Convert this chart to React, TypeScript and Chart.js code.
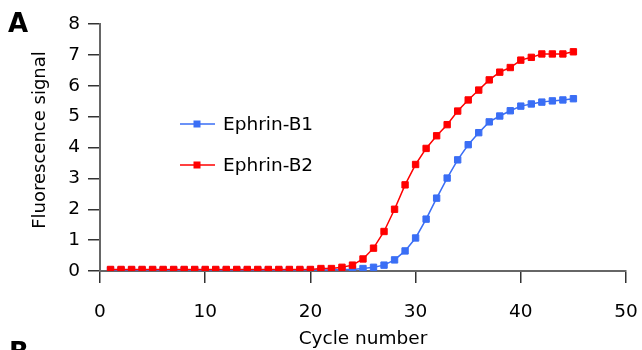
import React, { useEffect, useRef } from "react";
import { Chart, registerables } from "chart.js";

Chart.register(...registerables);

const cycles = [1, 2, 3, 4, 5, 6, 7, 8, 9, 10, 11, 12, 13, 14, 15, 16, 17, 18, 19, 20, 21, 22, 23, 24, 25, 26, 27, 28, 29, 30, 31, 32, 33, 34, 35, 36, 37, 38, 39, 40, 41, 42, 43, 44, 45];

const ephrinB1 = [0.03, 0.03, 0.03, 0.03, 0.03, 0.03, 0.03, 0.03, 0.03, 0.03, 0.03, 0.03, 0.03, 0.03, 0.03, 0.03, 0.03, 0.03, 0.03, 0.03, 0.03, 0.03, 0.05, 0.05, 0.08, 0.12, 0.19, 0.36, 0.65, 1.07, 1.68, 2.36, 3.01, 3.6, 4.09, 4.48, 4.83, 5.02, 5.19, 5.34, 5.41, 5.47, 5.51, 5.54, 5.58];

const ephrinB2 = [0.05, 0.05, 0.05, 0.05, 0.05, 0.05, 0.05, 0.05, 0.05, 0.05, 0.05, 0.05, 0.05, 0.05, 0.05, 0.05, 0.05, 0.05, 0.05, 0.05, 0.08, 0.08, 0.12, 0.19, 0.39, 0.74, 1.28, 2.0, 2.79, 3.45, 3.97, 4.38, 4.74, 5.18, 5.54, 5.86, 6.19, 6.44, 6.59, 6.83, 6.92, 7.03, 7.03, 7.03, 7.1];

const seriesNames = ["Ephrin-B1", "Ephrin-B2"];
const seriesColors = ["#3a6ef5", "#ff0000"];

const xTitle = "Cycle number";
const yTitle = "Fluorescence signal";
const panelLabels = ["A", "B"];

const FONT = "'DejaVu Sans', Verdana, sans-serif";

const overlayPlugin = {
  id: "overlay",
  afterDraw(chart: any) {
    const ctx = chart.ctx;
    ctx.save();
    // y axis title
    ctx.fillStyle = "#000";
    ctx.font = `18px ${FONT}`;
    ctx.textAlign = "center";
    ctx.textBaseline = "middle";
    ctx.translate(40, 140);
    ctx.rotate(-Math.PI / 2);
    ctx.fillText(yTitle, 0, 0);
    ctx.setTransform(1, 0, 0, 1, 0, 0);
    // legend
    const items = [
      { name: seriesNames[0], color: seriesColors[0], y: 124 },
      { name: seriesNames[1], color: seriesColors[1], y: 165 },
    ];
    items.forEach((it) => {
      ctx.strokeStyle = it.color;
      ctx.lineWidth = 1.5;
      ctx.beginPath();
      ctx.moveTo(180, it.y);
      ctx.lineTo(215, it.y);
      ctx.stroke();
      ctx.fillStyle = it.color;
      ctx.fillRect(197 - 3.5, it.y - 3.5, 7, 7);
      ctx.fillStyle = "#000";
      ctx.font = `18.5px ${FONT}`;
      ctx.textAlign = "left";
      ctx.textBaseline = "middle";
      ctx.fillText(it.name, 223, it.y + 1);
    });
    // panel labels
    ctx.fillStyle = "#000";
    ctx.font = `bold 26px ${FONT}`;
    ctx.textAlign = "left";
    ctx.textBaseline = "alphabetic";
    ctx.fillText(panelLabels[0], 8, 32);
    ctx.fillText(panelLabels[1], 9, 361);
    ctx.restore();
  },
};

export default function App() {
  const ref = useRef<HTMLCanvasElement | null>(null);

  useEffect(() => {
    if (!ref.current) return;
    const chart = new Chart(ref.current, {
      type: "line",
      data: {
        datasets: [
          {
            label: seriesNames[0],
            data: cycles.map((c, i) => ({ x: c, y: ephrinB1[i] })),
            borderColor: seriesColors[0],
            backgroundColor: seriesColors[0],
            borderWidth: 1.5,
            pointStyle: "rect",
            pointRadius: 4.5,
            pointBorderWidth: 1,
            order: 1,
          },
          {
            label: seriesNames[1],
            data: cycles.map((c, i) => ({ x: c, y: ephrinB2[i] })),
            borderColor: seriesColors[1],
            backgroundColor: seriesColors[1],
            borderWidth: 1.5,
            pointStyle: "rect",
            pointRadius: 4.5,
            pointBorderWidth: 1,
            order: 0,
          },
        ],
      },
      options: {
        responsive: false,
        animation: false,
        layout: { padding: { top: 24, right: 16, bottom: 0, left: 0 } },
        plugins: {
          legend: { display: false },
          tooltip: { enabled: false },
        },
        scales: {
          x: {
            type: "linear",
            min: 0,
            max: 50,
            ticks: {
              stepSize: 10,
              color: "#000",
              font: { family: FONT, size: 18.5 },
              padding: 18,
              maxRotation: 0,
            },
            grid: {
              drawOnChartArea: false,
              drawTicks: true,
              tickLength: 12,
              color: "#333",
              lineWidth: 1.5,
            },
            border: { color: "#666", width: 2 },
            title: {
              display: true,
              text: xTitle,
              color: "#000",
              font: { family: FONT, size: 18.5 },
              padding: { top: 0, bottom: 0 },
            },
            afterFit(scale: any) {
              scale.height = 79;
              scale.paddingLeft = 0;
              scale.paddingRight = 0;
            },
          },
          y: {
            type: "linear",
            min: 0,
            max: 8,
            ticks: {
              stepSize: 1,
              color: "#000",
              font: { family: FONT, size: 18.5 },
              padding: 8,
            },
            grid: {
              drawOnChartArea: false,
              drawTicks: true,
              tickLength: 12,
              color: "#333",
              lineWidth: 1.5,
            },
            border: { color: "#666", width: 2 },
            afterFit(scale: any) {
              scale.width = 100;
              scale.paddingTop = 0;
              scale.paddingBottom = 0;
            },
          },
        },
      },
      plugins: [overlayPlugin],
    });
    return () => chart.destroy();
  }, []);

  return (
    <div style={{ position: "fixed", left: 0, top: 0, width: 642, height: 350, background: "#fff" }}>
      <canvas ref={ref} width={642} height={350} style={{ display: "block" }} />
    </div>
  );
}
